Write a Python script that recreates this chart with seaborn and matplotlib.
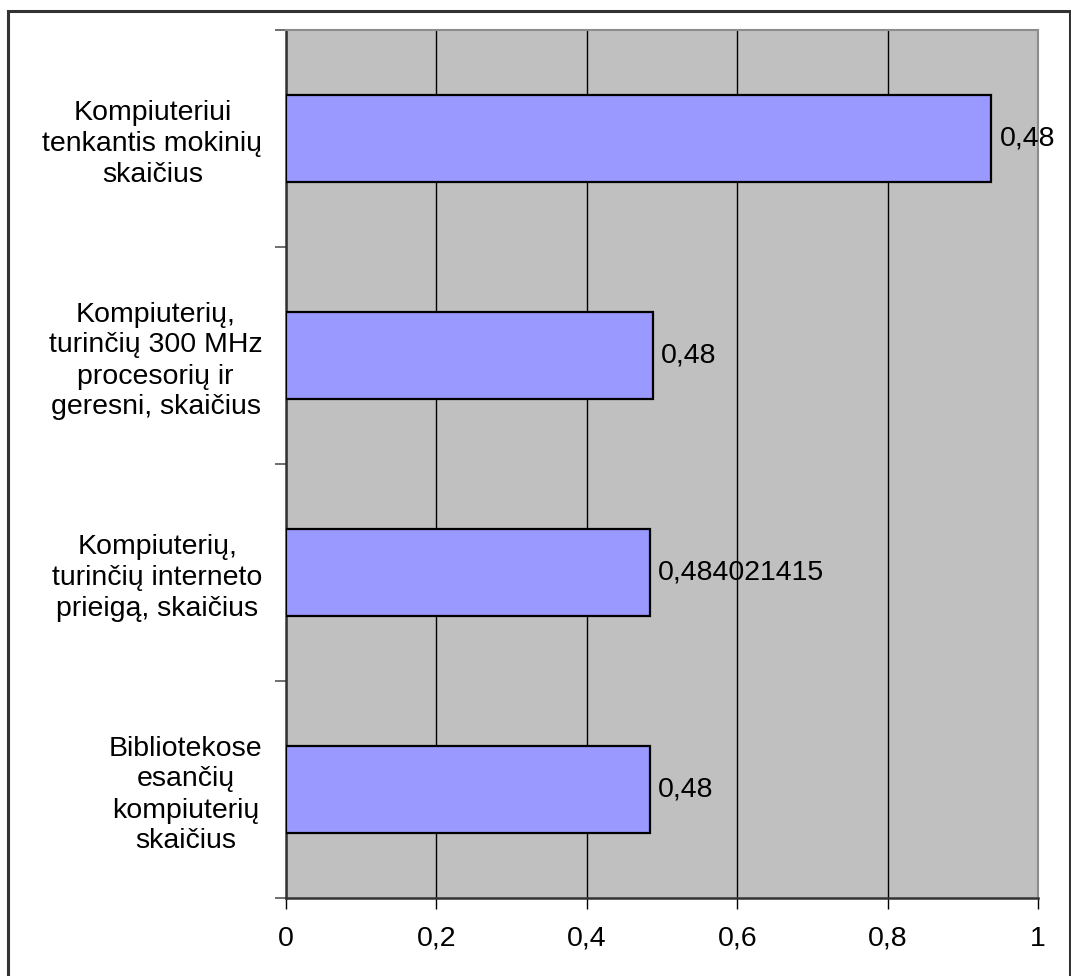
import matplotlib
matplotlib.use("Agg")
import matplotlib.pyplot as plt
from matplotlib.patches import Rectangle
import seaborn as sns
import pandas as pd

categories = [
    "Kompiuteriui\ntenkantis mokinių\nskaičius",
    "Kompiuterių,\nturinčių 300 MHz\nprocesorių ir\ngeresni, skaičius",
    "Kompiuterių,\nturinčių interneto\nprieigą, skaičius",
    "Bibliotekose\nesančių\nkompiuterių\nskaičius",
]
values = [0.938, 0.488, 0.484021415, 0.484]
value_labels = ["0,48", "0,48", "0,484021415", "0,48"]
x_ticks = [0, 0.2, 0.4, 0.6, 0.8, 1.0]
x_tick_labels = ["0", "0,2", "0,4", "0,6", "0,8", "1"]

sns.set_theme(style="white")
plt.rcParams["font.family"] = ["Liberation Sans", "DejaVu Sans"]
plt.rcParams["text.color"] = "black"
plt.rcParams["xtick.labelcolor"] = "black"
plt.rcParams["ytick.labelcolor"] = "black"
FS = 20.5

W, H = 1071, 976
fig = plt.figure(figsize=(W / 100, H / 100), dpi=100)
fig.patch.set_facecolor("white")

# outer chart frame
fig.patches.append(Rectangle((8 / W, -0.01), (1070 - 8) / W, 1.01 - 11 / H,
                             transform=fig.transFigure, fill=False,
                             edgecolor="#333333", linewidth=2.2, zorder=0))

ax = fig.add_axes([286 / W, 1 - 898 / H, (1038 - 286) / W, (898 - 30) / H])
ax.set_facecolor("#C0C0C0")

df = pd.DataFrame({"category": categories, "value": values})
sns.barplot(data=df, x="value", y="category", orient="h", color="#9999FF",
            saturation=1, width=0.4, edgecolor="black", linewidth=1.6,
            ax=ax, zorder=3)

ax.set_xlim(0, 1)
ax.set_ylim(3.5, -0.5)
ax.set_xlabel("")
ax.set_ylabel("")

ax.set_xticks(x_ticks)
ax.set_xticklabels(x_tick_labels)
ax.tick_params(axis="x", direction="out", length=8, width=1, color="black",
               pad=12, labelsize=FS, bottom=True)

ax.set_yticks(range(len(categories)))
ax.set_yticklabels(categories, multialignment="center", linespacing=1.25)
ax.tick_params(axis="y", which="major", length=0, pad=17, labelsize=FS)
ax.set_yticks([-0.5, 0.5, 1.5, 2.5, 3.5], minor=True)
ax.tick_params(axis="y", which="minor", direction="out", length=8, width=1.2,
               color="#555555", left=True)

ax.grid(axis="x", color="black", linewidth=1, zorder=1)
ax.grid(axis="y", visible=False)
ax.set_axisbelow(True)

for side in ["left", "bottom"]:
    ax.spines[side].set_color("#333333")
    ax.spines[side].set_linewidth(1.8)
for side in ["top", "right"]:
    ax.spines[side].set_color("#8c8c8c")
    ax.spines[side].set_linewidth(1.5)

for i, (v, lab) in enumerate(zip(values, value_labels)):
    ax.annotate(lab, xy=(v, i), xytext=(6, 0), textcoords="offset points",
                ha="left", va="center", fontsize=FS, color="black", zorder=4)

fig.savefig("out.png", dpi=100, facecolor="white")
